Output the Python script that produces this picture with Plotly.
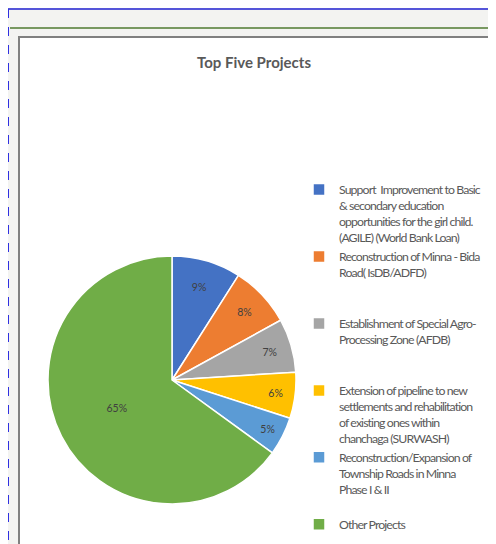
import plotly.graph_objects as go

# the page adds an 8px body margin, so the figure is drawn 8px smaller
# and every reference pixel position is shifted by OFF
W, H = 488, 536
OFF = 8

projects = [
    "Support  Improvement to Basic<br>& secondary education<br>opportunities for the girl child.<br>(AGILE) (World Bank Loan)",
    "Reconstruction of Minna - Bida<br>Road( IsDB/ADFD)",
    "Establishment of Special Agro-<br>Processing Zone (AFDB)",
    "Extension of pipeline to new<br>settlements and rehabilitation<br>of existing ones within<br>chanchaga (SURWASH)",
    "Reconstruction/Expansion of<br>Township Roads in Minna<br>Phase I & II",
    "Other Projects",
]
shares = [9, 8, 7, 6, 5, 65]
colors = ["#4472C4", "#ED7D31", "#A5A5A5", "#FFC000", "#5B9BD5", "#70AD47"]

FONT = "Lato"

# pad every legend entry to 4 lines so entries are evenly spaced (like Excel),
# and tighten letters a little to get Calibri-like widths
def legend_label(lbl, n=4):
    lines = lbl.split("<br>")
    lines += ["&nbsp;"] * (n - len(lines))
    return "<br>".join(f"<span style='letter-spacing:-0.9px'>{ln}</span>" for ln in lines)

def px_x(v):
    return (v - OFF) / W

def px_y(v):
    return 1 - (v - OFF) / H

cx, cy, r = 172, 380, 124

pie = go.Pie(
    labels=[legend_label(p) for p in projects],
    values=shares,
    sort=False,
    direction="clockwise",
    rotation=0,
    marker=dict(colors=colors, line=dict(color="#ffffff", width=1.5)),
    texttemplate="%{percent:.0%}",
    textposition="inside",
    insidetextorientation="horizontal",
    textfont=dict(size=10.5, color="#404040", family=FONT),
    domain=dict(x=[px_x(cx - r), px_x(cx + r)], y=[px_y(cy + r), px_y(cy - r)]),
    hoverinfo="skip",
)

fig = go.Figure(data=[pie])
fig.update_layout(
    width=W, height=H,
    paper_bgcolor="#f3f3f1",
    margin=dict(l=0, r=0, t=0, b=0, autoexpand=False),
    showlegend=True,
    legend=dict(
        x=px_x(299), y=px_y(175), xanchor="left", yanchor="top",
        bgcolor="rgba(0,0,0,0)",
        font=dict(size=12.3, color="#595959", family=FONT),
        valign="top", itemwidth=30, tracegroupgap=0,
    ),
    shapes=[
        # page lines
        dict(type="line", xref="paper", yref="paper", x0=px_x(8), x1=1,
             y0=px_y(9), y1=px_y(9), line=dict(color="#2020d0", width=1.5)),
        dict(type="line", xref="paper", yref="paper", x0=px_x(8.5), x1=px_x(8.5),
             y0=px_y(9), y1=0, line=dict(color="#3030e0", width=1, dash="dash")),
        dict(type="line", xref="paper", yref="paper", x0=px_x(10), x1=1,
             y0=px_y(28), y1=px_y(28), line=dict(color="#4f7a30", width=1.5)),
        # chart box
        dict(type="rect", xref="paper", yref="paper", x0=px_x(19), x1=px_x(489),
             y0=-0.01, y1=px_y(37), fillcolor="#ffffff",
             line=dict(color="#808080", width=2), layer="below"),
    ],
    annotations=[
        dict(text="<b>Top Five Projects</b>", x=px_x(254), y=px_y(62),
             xref="paper", yref="paper", showarrow=False,
             xanchor="center", yanchor="middle",
             font=dict(size=15, color="#595959", family=FONT)),
    ],
)

fig.write_html("out.html")
